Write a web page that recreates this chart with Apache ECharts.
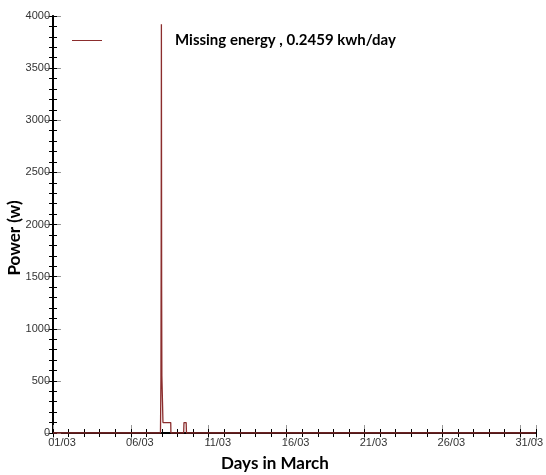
<!DOCTYPE html>
<html>
<head>
<meta charset="utf-8">
<script src="https://cdn.jsdelivr.net/npm/echarts@6/dist/echarts.min.js"></script>
<style>html,body{margin:0;padding:0;background:#fff}#c{width:546px;height:475px}</style>
</head>
<body>
<div id="c"></div>
<script>
// Time in days since 01/03 00:00
const days  = [0, 6.90, 6.93, 6.945, 6.955, 6.96, 6.965, 6.975, 6.99, 7.03, 7.06, 7.56, 7.57, 8.39, 8.41, 8.55, 8.57, 31];
const power = [0, 0,    520,  1700,  3070,  3920, 3070,  1400,  550,  300,  100,  100,  0,    0,    100,  100,  0,    0];
const xTickLabels = ['01/03', '06/03', '11/03', '16/03', '21/03', '26/03', '31/03'];
const yMax = 4000;
const seriesName = 'Missing energy , 0.2459 kwh/day';
const xTitle = 'Days in March';
const yTitle = 'Power (w)';

const data = days.map((d, i) => [d, power[i]]);
const chart = echarts.init(document.getElementById('c'));
const majorTick = { show: true, inside: true, length: 8, lineStyle: { color: '#999', width: 1 } };
const minorTickOnly = { show: true, inside: true, length: 4, lineStyle: { color: '#000', width: 1 } };
const axisLine = { show: true, lineStyle: { color: '#000', width: 1.5 } };
const baseX = { type: 'value', min: 0, max: 31, splitLine: { show: false }, axisLine: axisLine };
const baseY = { type: 'value', min: 0, max: yMax, splitLine: { show: false }, axisLine: axisLine };
chart.setOption({
  animation: false,
  grid: { left: 53, right: 3, top: 16, bottom: 42, containLabel: false },
  legend: {
    left: 67, top: 28, itemWidth: 30, itemHeight: 12, itemGap: 0,
    data: [seriesName],
    icon: 'path://M0,0 L30,0 L30,1 L0,1 Z',
    formatter: '{t|{name}}',
    textStyle: { rich: { t: { padding: [0, 0, 0, 68], fontFamily: 'Lato', fontWeight: 'bold', fontSize: 15, color: '#000' } } }
  },
  xAxis: [
    Object.assign({}, baseX, { position: 'bottom', interval: 5, axisTick: majorTick,
      axisLabel: { show: true, margin: 4, fontFamily: 'Liberation Sans', fontSize: 11, color: '#333', padding: [0, 0, 0, 18],
        formatter: v => (v % 5 === 0 && xTickLabels[v / 5]) ? xTickLabels[v / 5] : '' } }),
    Object.assign({}, baseX, { position: 'bottom', interval: 1, axisTick: minorTickOnly, axisLabel: { show: false } }),
    Object.assign({}, baseX, { position: 'top', interval: 5, axisTick: majorTick, axisLabel: { show: false } }),
    Object.assign({}, baseX, { position: 'top', interval: 1, axisTick: minorTickOnly, axisLabel: { show: false } })
  ],
  yAxis: [
    Object.assign({}, baseY, { position: 'left', interval: 500, axisTick: majorTick,
      axisLabel: { margin: 3, fontFamily: 'Liberation Sans', fontSize: 11, color: '#333', formatter: v => String(v) } }),
    Object.assign({}, baseY, { position: 'left', interval: 100, axisTick: minorTickOnly, axisLabel: { show: false } }),
    Object.assign({}, baseY, { position: 'right', interval: 500, axisTick: majorTick, axisLabel: { show: false } }),
    Object.assign({}, baseY, { position: 'right', interval: 100, axisTick: minorTickOnly, axisLabel: { show: false } })
  ],
  series: [{
    name: seriesName, type: 'line', xAxisIndex: 0, yAxisIndex: 0, data: data, showSymbol: false, symbol: 'none',
    lineStyle: { color: '#8b2d2d', width: 1.3 }, itemStyle: { color: '#8b2d2d' }, z: 5
  }],
  graphic: [
    { type: 'text', left: 221, top: 455, style: { text: xTitle, fontFamily: 'Lato', fontWeight: 'bold', fontSize: 17, fill: '#000' } },
    { type: 'text', x: 15, y: 238, rotation: Math.PI / 2, style: { text: yTitle, fontFamily: 'Lato', fontWeight: 'bold', fontSize: 17, fill: '#000', align: 'center', verticalAlign: 'middle' } }
  ]
});
</script>
</body>
</html>
